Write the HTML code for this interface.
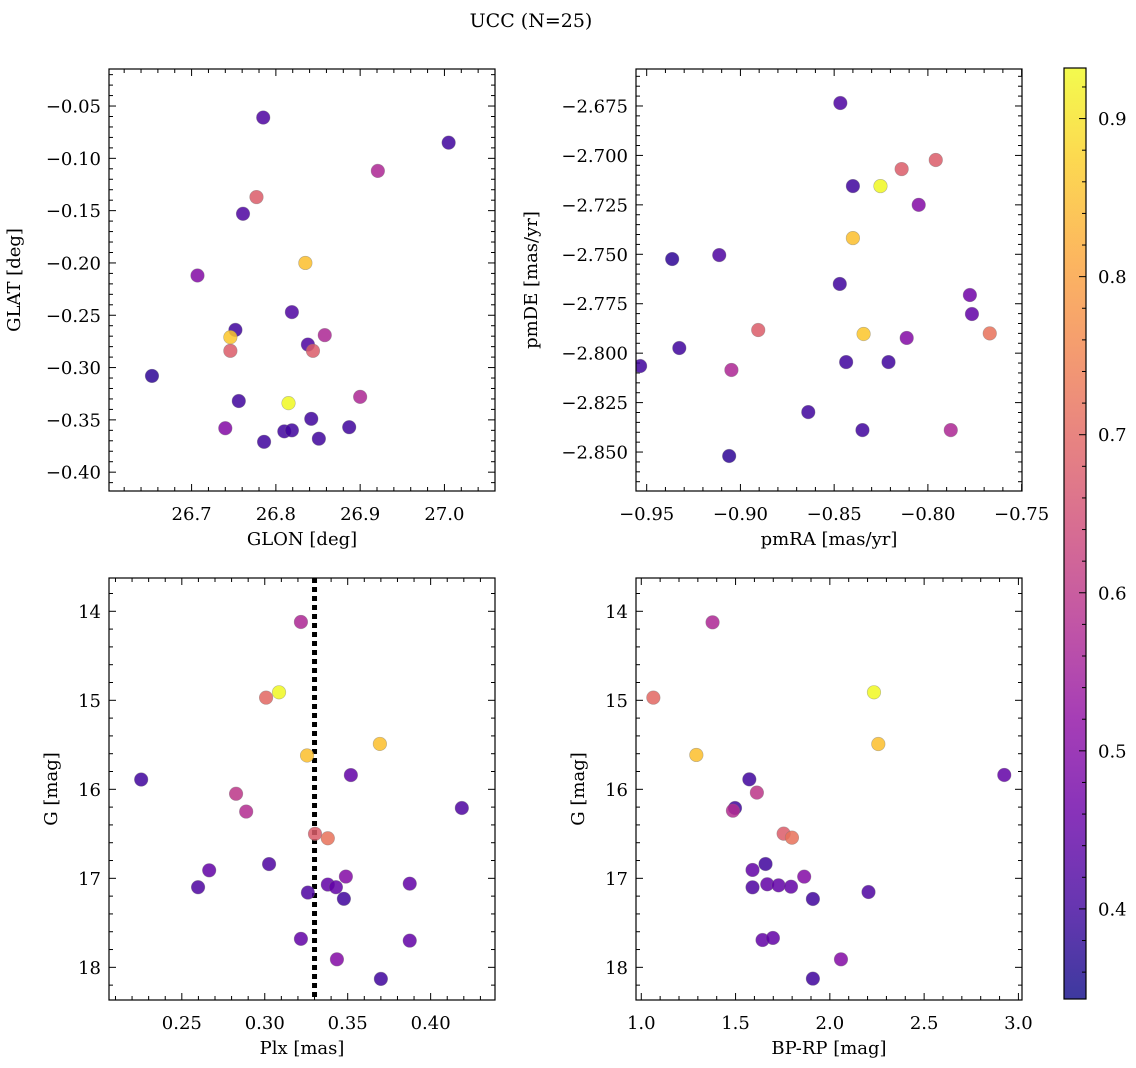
<!DOCTYPE html>
<html><head><meta charset="utf-8"><title>UCC (N=25)</title>
<style>
html,body{margin:0;padding:0;background:#fff;}
svg{display:block;font-family:"DejaVu Serif","Liberation Serif",serif;}
</style></head>
<body>
<svg id="fig" width="1136" height="1068" viewBox="0 0 1136 1068" xmlns="http://www.w3.org/2000/svg">
<text x="531" y="27" font-size="19" text-anchor="middle">UCC (N=25)</text>
</svg>
<script>
// Panel 1: GLON vs GLAT
const p1Glon = [26.653,26.707,26.756,26.761,26.752,26.746,26.746,26.740,26.777,26.785,26.786,26.810,26.819,26.819,26.815,26.835,26.838,26.842,26.844,26.851,26.858,26.887,26.900,26.921,27.005];
const p1Glat = [-0.308,-0.212,-0.332,-0.153,-0.264,-0.271,-0.284,-0.358,-0.137,-0.061,-0.371,-0.361,-0.360,-0.247,-0.334,-0.200,-0.278,-0.349,-0.284,-0.368,-0.269,-0.357,-0.328,-0.112,-0.085];
const p1Prob = [0.38,0.50,0.40,0.42,0.40,0.86,0.68,0.50,0.68,0.42,0.40,0.40,0.40,0.42,0.93,0.85,0.42,0.40,0.68,0.40,0.57,0.40,0.57,0.57,0.40];
// Panel 2: pmRA vs pmDE
const p2PmRA = [-0.8467,-0.9364,-0.9113,-0.9535,-0.9326,-0.9048,-0.8638,-0.8905,-0.9060,-0.8400,-0.8400,-0.8470,-0.8436,-0.8253,-0.8343,-0.8349,-0.8210,-0.8140,-0.8113,-0.8049,-0.7958,-0.7878,-0.7776,-0.7765,-0.7670];
const p2PmDE = [-2.6735,-2.7524,-2.7504,-2.8065,-2.7974,-2.8085,-2.8298,-2.7883,-2.8520,-2.7155,-2.7418,-2.7650,-2.8045,-2.7155,-2.7903,-2.8389,-2.8045,-2.7069,-2.7923,-2.7250,-2.7023,-2.8389,-2.7706,-2.7802,-2.7900];
const p2Prob = [0.42,0.38,0.42,0.40,0.40,0.57,0.40,0.68,0.38,0.40,0.85,0.40,0.40,0.93,0.86,0.40,0.40,0.68,0.50,0.50,0.68,0.57,0.47,0.45,0.72];
// Panel 3: Plx vs G
const p3Plx = [0.2255,0.2598,0.2665,0.2827,0.2888,0.3008,0.3026,0.3086,0.3218,0.3218,0.3255,0.3260,0.3303,0.3380,0.3380,0.3429,0.3435,0.3489,0.3477,0.3519,0.3694,0.3700,0.3874,0.3874,0.4188];
const p3G = [15.89,17.10,16.91,16.05,16.25,14.97,16.84,14.91,14.12,17.68,15.62,17.16,16.50,16.55,17.07,17.10,17.91,16.98,17.23,15.84,15.49,18.13,17.06,17.70,16.21];
const p3Prob = [0.40,0.42,0.45,0.60,0.58,0.70,0.42,0.93,0.57,0.45,0.85,0.42,0.68,0.72,0.45,0.45,0.50,0.50,0.40,0.45,0.85,0.40,0.45,0.45,0.42];
const plxLine = [0.33];
// Panel 4: BP-RP vs G
const p4Color = [1.378,1.064,1.292,2.234,2.257,2.925,1.573,1.613,1.497,1.486,1.755,1.799,1.659,1.590,1.864,1.590,1.668,1.728,1.794,1.910,2.205,1.643,1.698,2.059,1.910];
const p4G = [14.124,14.970,15.614,14.910,15.491,15.839,15.888,16.037,16.210,16.240,16.498,16.543,16.839,16.906,16.981,17.101,17.067,17.079,17.094,17.232,17.154,17.693,17.670,17.910,18.127];
const p4Prob = [0.57,0.70,0.85,0.93,0.85,0.45,0.40,0.60,0.40,0.58,0.68,0.72,0.40,0.45,0.50,0.42,0.45,0.45,0.45,0.40,0.42,0.45,0.45,0.50,0.40];
// Tick labels
const p1XTicks = [26.7,26.8,26.9,27.0];
const p1YTicks = [-0.05,-0.10,-0.15,-0.20,-0.25,-0.30,-0.35,-0.40];
const p2XTicks = [-0.95,-0.90,-0.85,-0.80,-0.75];
const p2YTicks = [-2.675,-2.700,-2.725,-2.750,-2.775,-2.800,-2.825,-2.850];
const p3XTicks = [0.25,0.30,0.35,0.40];
const gTicks = [14,15,16,17,18];
const p4XTicks = [1.0,1.5,2.0,2.5,3.0];
const cbTicks = [0.4,0.5,0.6,0.7,0.8,0.9];

const NS = "http://www.w3.org/2000/svg";
const svg = document.getElementById('fig');
const VMIN = 0.343, VMAX = 0.932;
const FS = 18;
const stops = ["#0d0887","#41049d","#6a00a8","#8f0da4","#b12a90","#cc4778","#e16462","#f2844b","#fca636","#fcce25","#f0f921"];
function hex(h){return [parseInt(h.substr(1,2),16),parseInt(h.substr(3,2),16),parseInt(h.substr(5,2),16)];}
function plasma(t){
  t=Math.max(0,Math.min(1,t));
  const f=t*10, i=Math.min(9,Math.floor(f)), r=f-i;
  const a=hex(stops[i]), b=hex(stops[i+1]);
  return "rgb("+a.map((v,k)=>Math.round(v+(b[k]-v)*r)).join(",")+")";
}
function colorOf(p){return plasma((p-VMIN)/(VMAX-VMIN));}
function mk(tag, attrs, parent){
  const e=document.createElementNS(NS,tag);
  for(const k in attrs) e.setAttribute(k,attrs[k]);
  (parent||svg).appendChild(e);
  return e;
}
function fmt(v,d){return (v<0?"\u2212":"")+Math.abs(v).toFixed(d);}

function panel(cfg){
  const {L,T,R,B,xmin,xmax,ymin,ymax,yInv,name}=cfg;
  const g=mk('g',{});
  
  
  const sx=v=>L+(v-xmin)/(xmax-xmin)*(R-L);
  const sy=yInv ? (v=>T+(v-ymin)/(ymax-ymin)*(B-T)) : (v=>B-(v-ymin)/(ymax-ymin)*(B-T));
  const tg=mk('g',{stroke:"#000","stroke-width":1},g);
  
  
  const eps=1e-9;
  let s=Math.ceil((Math.min(xmin,xmax))/cfg.xMinor-eps);
  for(let k=s;k*cfg.xMinor<=Math.max(xmin,xmax)+eps;k++){
    const x=sx(k*cfg.xMinor);
    const maj=Math.abs(Math.round(k*cfg.xMinor/cfg.xMajor)*cfg.xMajor-k*cfg.xMinor)<1e-7;
    const len=maj?7:4;
    mk('line',{x1:x,x2:x,y1:B,y2:B-len},tg); mk('line',{x1:x,x2:x,y1:T,y2:T+len},tg);
  }
  const ylo=Math.min(ymin,ymax), yhi=Math.max(ymin,ymax);
  s=Math.ceil(ylo/cfg.yMinor-eps);
  for(let k=s;k*cfg.yMinor<=yhi+eps;k++){
    const y=sy(k*cfg.yMinor);
    const maj=Math.abs(Math.round(k*cfg.yMinor/cfg.yMajor)*cfg.yMajor-k*cfg.yMinor)<1e-7;
    const len=maj?7:4;
    mk('line',{x1:L,x2:L+len,y1:y,y2:y},tg); mk('line',{x1:R,x2:R-len,y1:y,y2:y},tg);
  }
  cfg.xTicks.forEach(v=>{
    const t=mk('text',{x:sx(v),y:B+29,"font-size":FS,"text-anchor":"middle"},g);
    
    
    t.textContent=fmt(v,cfg.xDec);
  });
  cfg.yTicks.forEach(v=>{
    const t=mk('text',{x:L-8,y:sy(v)+6.5,"font-size":FS,"text-anchor":"end"},g);
    
    
    t.textContent=fmt(v,cfg.yDec);
  });
  const xt=mk('text',{x:(L+R)/2,y:B+54,"font-size":FS,"text-anchor":"middle"},g);
  
  
  xt.textContent=cfg.xLabel;
  const yx=cfg.yLabelX, yc=(T+B)/2;
  const yt=mk('text',{x:yx,y:yc,"font-size":FS,"text-anchor":"middle",transform:"rotate(-90 "+yx+" "+yc+")"},g);
  
  
  yt.textContent=cfg.yLabel;
  const cid='clip-'+name;
  const cp=mk('clipPath',{id:cid},g);
  mk('rect',{x:L,y:T,width:R-L,height:B-T},cp);
  const pg=mk('g',{"clip-path":"url(#"+cid+")"},g);
  (cfg.vlines||[]).forEach(v=>{
    const l=mk('line',{x1:sx(v),x2:sx(v),y1:T,y2:B,stroke:"#000","stroke-width":5,"stroke-dasharray":"5 4"},pg);
    
    
  });
  cfg.xs.forEach((v,i)=>{
    const c=mk('circle',{cx:sx(v),cy:sy(cfg.ys[i]),r:6.8,fill:colorOf(cfg.ps[i]),"fill-opacity":0.85,stroke:"#777","stroke-opacity":0.5,"stroke-width":0.6},pg);
    
    
  });
  const fr=mk('rect',{x:L,y:T,width:R-L,height:B-T,fill:"none",stroke:"#000","stroke-width":1.2},g);
  
  
}

panel({name:'glon-glat-panel',L:109,T:69,R:495,B:491,xmin:26.602,xmax:27.060,ymin:-0.418,ymax:-0.0146,
  xs:p1Glon,ys:p1Glat,ps:p1Prob,xTicks:p1XTicks,yTicks:p1YTicks,xDec:1,yDec:2,xMajor:0.1,xMinor:0.02,yMajor:0.05,yMinor:0.01,
  xLabel:"GLON [deg]",yLabel:"GLAT [deg]",yLabelX:20});
panel({name:'pm-panel',L:636,T:69,R:1022,B:491,xmin:-0.9557,xmax:-0.7498,ymin:-2.8697,ymax:-2.6563,
  xs:p2PmRA,ys:p2PmDE,ps:p2Prob,xTicks:p2XTicks,yTicks:p2YTicks,xDec:2,yDec:3,xMajor:0.05,xMinor:0.01,yMajor:0.025,yMinor:0.005,
  xLabel:"pmRA [mas/yr]",yLabel:"pmDE [mas/yr]",yLabelX:537});
panel({name:'plx-g-panel',L:109,T:578,R:495,B:1000,xmin:0.2061,xmax:0.4388,ymin:13.626,ymax:18.367,yInv:true,
  xs:p3Plx,ys:p3G,ps:p3Prob,xTicks:p3XTicks,yTicks:gTicks,xDec:2,yDec:0,xMajor:0.05,xMinor:0.01,yMajor:1,yMinor:0.2,
  xLabel:"Plx [mas]",yLabel:"G [mag]",yLabelX:57,vlines:plxLine});
panel({name:'cmd-panel',L:636,T:578,R:1022,B:1000,xmin:0.972,xmax:3.019,ymin:13.626,ymax:18.367,yInv:true,
  xs:p4Color,ys:p4G,ps:p4Prob,xTicks:p4XTicks,yTicks:gTicks,xDec:1,yDec:0,xMajor:0.5,xMinor:0.1,yMajor:1,yMinor:0.2,
  xLabel:"BP-RP [mag]",yLabel:"G [mag]",yLabelX:584});

(function(){
  const L=1064,R=1086,T=68,B=999;
  const cg=mk('g',{});
  
  
  const defs=mk('defs',{},cg);
  const lg=mk('linearGradient',{id:'cbgrad',x1:0,y1:1,x2:0,y2:0},defs);
  for(let i=0;i<=20;i++){mk('stop',{offset:i/20,"stop-color":plasma(i/20)},lg);}
  mk('rect',{x:L,y:T,width:R-L,height:B-T,fill:"url(#cbgrad)","fill-opacity":0.8},cg);
  const sy=v=>B-(v-VMIN)/(VMAX-VMIN)*(B-T);
  for(let k=Math.ceil(VMIN/0.02);k*0.02<=VMAX;k++){
    const v=k*0.02, y=sy(v);
    const maj=Math.abs(Math.round(v*10)/10-v)<1e-7;
    mk('line',{x1:R,x2:R-(maj?7:4),y1:y,y2:y,stroke:"#000","stroke-width":1},cg);
  }
  cbTicks.forEach(v=>{
    const t=mk('text',{x:R+12,y:sy(v)+6.5,"font-size":FS},cg);
    
    
    t.textContent=v.toFixed(1);
  });
  mk('rect',{x:L,y:T,width:R-L,height:B-T,fill:"none",stroke:"#000","stroke-width":1.2},cg);
})();
</script>
</body></html>
